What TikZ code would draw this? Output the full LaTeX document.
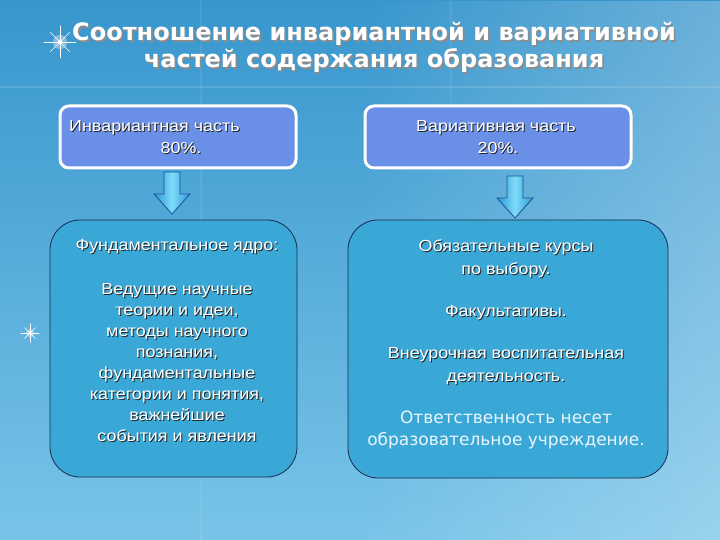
\documentclass[tikz,border=0pt]{standalone}
\usepackage{fontspec}
\setmainfont{Liberation Sans}[FakeStretch=1.12]
\newfontfamily\dejavu{DejaVu Sans}
\usetikzlibrary{fadings,calc}
\definecolor{bgdark}{HTML}{3896CD}
\definecolor{bglight}{HTML}{78C4E8}
\definecolor{topboxc}{HTML}{6A8FE6}
\definecolor{lowboxc}{HTML}{3AA8D6}
\definecolor{navyc}{HTML}{1A2A50}
\definecolor{arrowlight}{HTML}{7FDBFA}
\definecolor{arrowdark}{HTML}{2A98D6}
\definecolor{arrowline}{HTML}{1B4F8F}
\definecolor{paletext}{HTML}{EAF5FB}
\newcommand\sh[1]{\makebox[0pt][l]{\kern1pt\raisebox{-1pt}{\color{black!85}#1}}#1}
\newcommand\shT[1]{\makebox[0pt][l]{\kern1.6pt\raisebox{-1.6pt}{\color{black!45}#1}}#1}
\tikzset{
  topbox/.style={draw=white, line width=3pt, fill=topboxc, rounded corners=9pt},
  lowbox/.style={draw=navyc, line width=0.8pt, fill=lowboxc, rounded corners=30pt},
  bodytext/.style={text=white, font=\fontsize{16}{21}\selectfont, align=center, inner sep=0pt},
  titletext/.style={text=white, font=\dejavu\bfseries\fontsize{24}{27}\selectfont, align=center, inner sep=0pt},
  bigarrow/.style={draw=arrowline, line width=0.8pt, left color=arrowdark, right color=arrowdark, middle color=arrowlight},
  sparkle/.style={white, line width=0.8pt, line cap=round}
}
\newcommand\downarrowshape[3]{%
  \path[bigarrow] (#1-8,#2) -- (#1+8,#2) -- (#1+8,#3-20) -- (#1+18,#3-20) -- (#1,#3) -- (#1-18,#3-20) -- (#1-8,#3-20) -- cycle;}
\begin{document}
\begin{tikzpicture}[x=1pt,y=-1pt]
\useasboundingbox (0,0) rectangle (720,540);
% background
\shade[top color=bgdark, bottom color=bglight] (0,0) rectangle (720,540);
\fill[white, opacity=0.25, path fading=west] (360,0) rectangle (720,540);
\fill[white, opacity=0.12] (0,86) rectangle (720,88);
\fill[white, opacity=0.08] (200,0) rectangle (202,540);
\fill[white, opacity=0.08] (450,0) rectangle (452,100);
% sparkles
\foreach \cx/\cy/\r in {60/42/16, 30/333/9}{
  \fill[white, opacity=0.35] (\cx,\cy) circle (\r*0.45);
  \fill[white] (\cx,\cy) circle (\r*0.15);
  \draw[sparkle] (\cx-\r,\cy) -- (\cx+\r,\cy) (\cx,\cy-\r) -- (\cx,\cy+\r);
  \draw[sparkle, line width=0.5pt] (\cx-\r*0.6,\cy-\r*0.6) -- (\cx+\r*0.6,\cy+\r*0.6) (\cx-\r*0.6,\cy+\r*0.6) -- (\cx+\r*0.6,\cy-\r*0.6);
}
% title
\node[titletext, anchor=base] (title) at (374,68) {\shT{Соотношение инвариантной и вариативной}\\ \shT{частей содержания образования}};
% top boxes
\node[topbox, minimum width=236pt, minimum height=62pt] (inv) at (178,137) {};
\node[topbox, minimum width=266pt, minimum height=62pt] (var) at (498,137) {};
\node[bodytext, anchor=base west] (invt1) at (69,132) {\sh{Инвариантная часть}};
\node[bodytext, anchor=base] (invt2) at (181,154) {\sh{80\%.}};
\node[bodytext, anchor=base] (vart1) at (496,132) {\sh{Вариативная часть}};
\node[bodytext, anchor=base] (vart2) at (498,154) {\sh{20\%.}};
% lower boxes
\node[lowbox, minimum width=247pt, minimum height=257pt] (core) at (173.5,348.5) {};
\node[lowbox, minimum width=320pt, minimum height=258pt] (choice) at (508,349) {};
% arrows
\downarrowshape{172}{172}{214}
\downarrowshape{515}{176}{218}
% left text
\node[bodytext, anchor=base] (c1) at (177,251) {\sh{Фундаментальное ядро:}};
\node[bodytext, anchor=north, font=\fontsize{16}{21.1}\selectfont] (c2) at (177,283) {\sh{Ведущие  научные}\\ \sh{теории и  идеи,}\\ \sh{методы научного}\\ \sh{познания,}\\ \sh{фундаментальные}\\ \sh{категории и понятия,}\\ \sh{важнейшие }\\ \sh{события и явления}};
% right text
\node[bodytext, anchor=north, font=\fontsize{16}{23}\selectfont] (r1) at (506,240) {\sh{Обязательные курсы}\\ \sh{по выбору.}};
\node[bodytext, anchor=north] (r2) at (506,305) {\sh{Факультативы.}};
\node[bodytext, anchor=north, font=\fontsize{16}{23}\selectfont] (r3) at (506,347) {\sh{Внеурочная  воспитательная}\\ \sh{деятельность.}};
\node[bodytext, anchor=north, text=paletext, font=\dejavu\fontsize{17}{21.5}\selectfont] (r4) at (506,411) {Ответственность несет\\ образовательное учреждение.};
\end{tikzpicture}
\end{document}
